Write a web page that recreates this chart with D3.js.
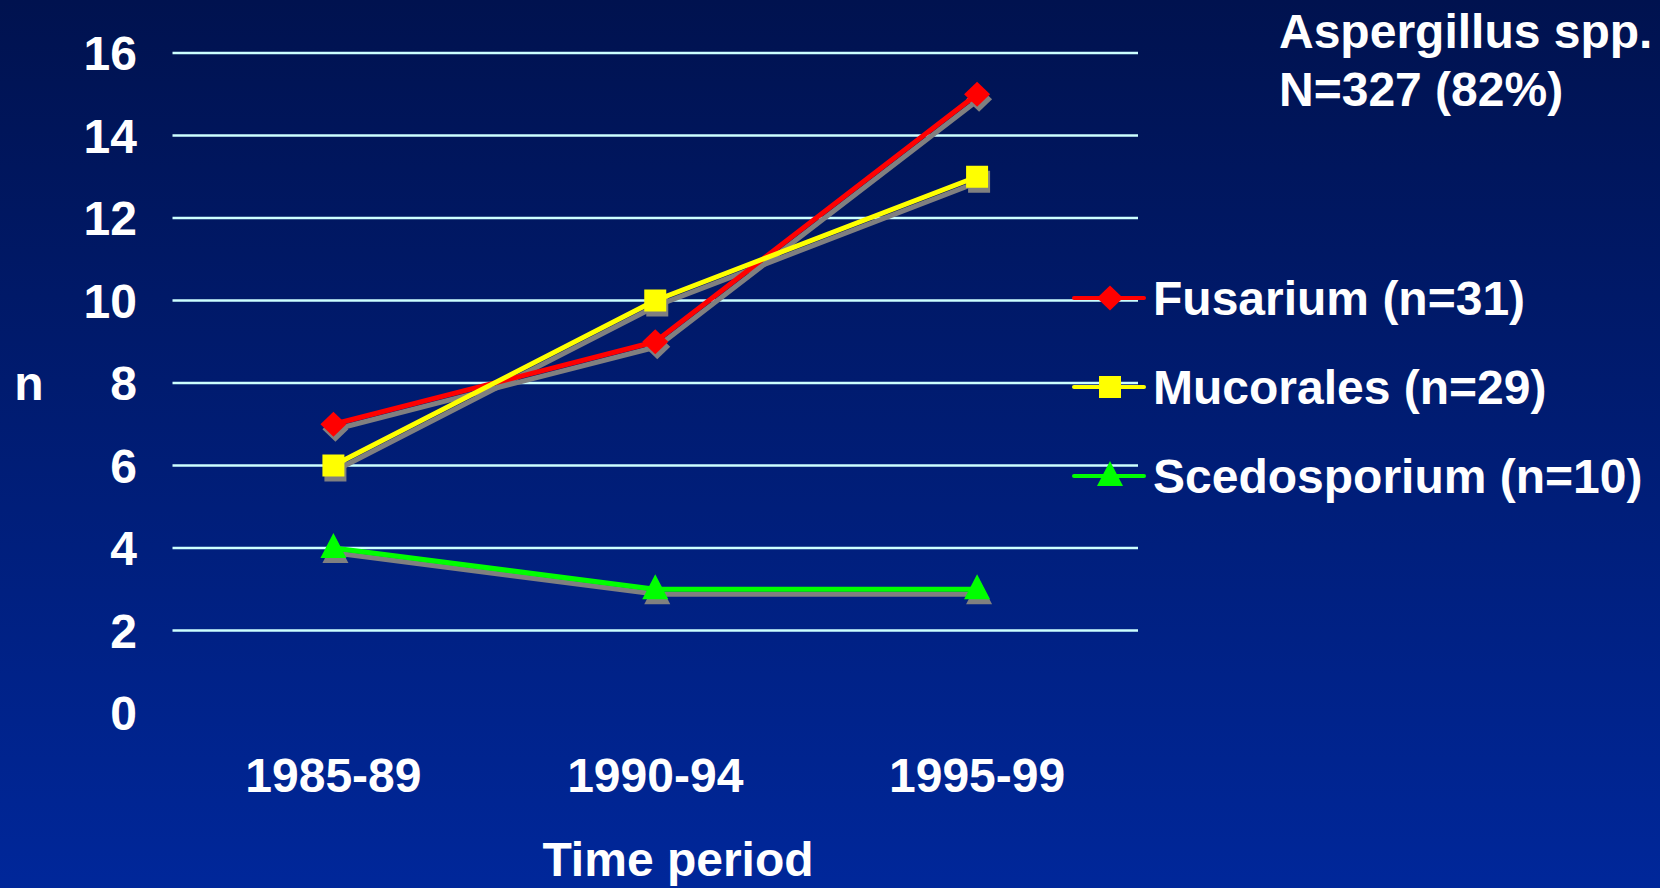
<!DOCTYPE html>
<html>
<head>
<meta charset="utf-8">
<script src="https://cdn.jsdelivr.net/npm/d3@7"></script>
<style>
  html, body { margin: 0; padding: 0; overflow: hidden; background: #001a70; }
  svg { display: block; }
  text { font-family: "Liberation Sans", Arial, Helvetica, sans-serif; font-weight: bold; fill: #ffffff; }
</style>
</head>
<body>
<svg id="chart" width="1660" height="888"></svg>
<script>
// Cases per five-year period, by mould group
const periods = ["1985-89", "1990-94", "1995-99"];
const fusarium = [7, 9, 15];
const mucorales = [6, 10, 13];
const scedosporium = [4, 3, 3];
const seriesNames = ["Fusarium (n=31)", "Mucorales (n=29)", "Scedosporium (n=10)"];
const yTicks = [0, 2, 4, 6, 8, 10, 12, 14, 16];
const titleLines = ["Aspergillus spp.", "N=327 (82%)"];

const W = 1660, H = 888;
const svg = d3.select("#chart");

// Background gradient: deep navy at top to a brighter blue at the bottom
const defs = svg.append("defs");
const grad = defs.append("linearGradient")
  .attr("id", "bg").attr("x1", 0).attr("y1", 0).attr("x2", 0).attr("y2", 1);
grad.append("stop").attr("offset", "0%").attr("stop-color", "#00124f");
grad.append("stop").attr("offset", "100%").attr("stop-color", "#00279a");
svg.append("rect").attr("width", W).attr("height", H).attr("fill", "url(#bg)");

const plot = { left: 172.5, right: 1138, top: 53, bottom: 713 };

const x = d3.scaleBand().domain(periods).range([plot.left, plot.right]).padding(0);
const xc = d => x(d) + x.bandwidth() / 2;
const y = d3.scaleLinear().domain([0, 16]).range([plot.bottom, plot.top]);

// Horizontal gridlines (none at zero)
svg.append("g").selectAll("line")
  .data(yTicks.filter(t => t > 0))
  .join("line")
  .attr("x1", plot.left).attr("x2", plot.right)
  .attr("y1", d => y(d)).attr("y2", d => y(d))
  .attr("stroke", "#ccffff").attr("stroke-width", 2.5);

// Y axis labels
const yAxis = d3.axisLeft(y).tickValues(yTicks).tickSize(0).tickPadding(0);
const yg = svg.append("g").attr("transform", `translate(137,0)`).call(yAxis);
yg.select(".domain").remove();
yg.selectAll("text")
  .attr("font-size", 48).attr("fill", "#fff")
  .attr("font-family", null).attr("dy", "0.35em");

// X axis labels
const xAxis = d3.axisBottom(x).tickSize(0).tickPadding(0);
const xg = svg.append("g").attr("transform", `translate(0,792)`).call(xAxis);
xg.select(".domain").remove();
xg.selectAll("text")
  .attr("font-size", 48).attr("fill", "#fff")
  .attr("font-family", null).attr("dy", 0).attr("y", 0);

// Axis titles
svg.append("text").attr("x", 29).attr("y", 400).attr("text-anchor", "middle")
  .attr("font-size", 48).text("n");
svg.append("text").attr("x", 678).attr("y", 876).attr("text-anchor", "middle")
  .attr("font-size", 48).text("Time period");

// Corner note
svg.append("text").attr("x", 1279).attr("font-size", 48)
  .selectAll("tspan").data(titleLines).join("tspan")
  .attr("x", 1279).attr("y", (d, i) => 48 + i * 58).text(d => d);

const series = [
  { name: seriesNames[0], values: fusarium, color: "#ff0000", shape: "diamond" },
  { name: seriesNames[1], values: mucorales, color: "#ffff00", shape: "square" },
  { name: seriesNames[2], values: scedosporium, color: "#00ff00", shape: "triangle" }
];

// Marker outlines centred on the data point
const markerPath = shape => {
  if (shape === "diamond") return "M0,-12.5L13,0L0,12.5L-13,0Z";
  if (shape === "triangle") return "M0,-15L13,10L-13,10Z";
  return "M-11,-11H11V11H-11Z";
};

const line = d3.line().x((d, i) => xc(periods[i])).y(d => y(d));

const shadow = { dx: 2, dy: 5, color: "#808080" };

// Shadows first, then the coloured lines and markers on top
series.forEach(s => {
  const sh = svg.append("g").attr("transform", `translate(${shadow.dx},${shadow.dy})`);
  sh.append("path").attr("d", line(s.values)).attr("fill", "none")
    .attr("stroke", shadow.color).attr("stroke-width", 5).attr("stroke-linejoin", "round");
  sh.selectAll("path.m").data(s.values).join("path").attr("class", "m")
    .attr("d", markerPath(s.shape))
    .attr("transform", (d, i) => `translate(${xc(periods[i])},${y(d)})`)
    .attr("fill", shadow.color);
});
series.forEach(s => {
  const g = svg.append("g");
  g.append("path").attr("d", line(s.values)).attr("fill", "none")
    .attr("stroke", s.color).attr("stroke-width", 5).attr("stroke-linejoin", "round");
  g.selectAll("path.m").data(s.values).join("path").attr("class", "m")
    .attr("d", markerPath(s.shape))
    .attr("transform", (d, i) => `translate(${xc(periods[i])},${y(d)})`)
    .attr("fill", s.color);
});

// Legend
const legendY = [298, 387, 476];
const legend = svg.append("g");
series.forEach((s, i) => {
  const gy = legendY[i];
  legend.append("line").attr("x1", 1074).attr("x2", 1144).attr("y1", gy).attr("y2", gy)
    .attr("stroke", s.color).attr("stroke-width", 4).attr("stroke-linecap", "round");
  legend.append("path").attr("d", markerPath(s.shape))
    .attr("transform", `translate(1110,${gy})`).attr("fill", s.color);
  legend.append("text").attr("x", 1153).attr("y", gy + 17)
    .attr("font-size", 48).text(s.name);
});
</script>
</body>
</html>
